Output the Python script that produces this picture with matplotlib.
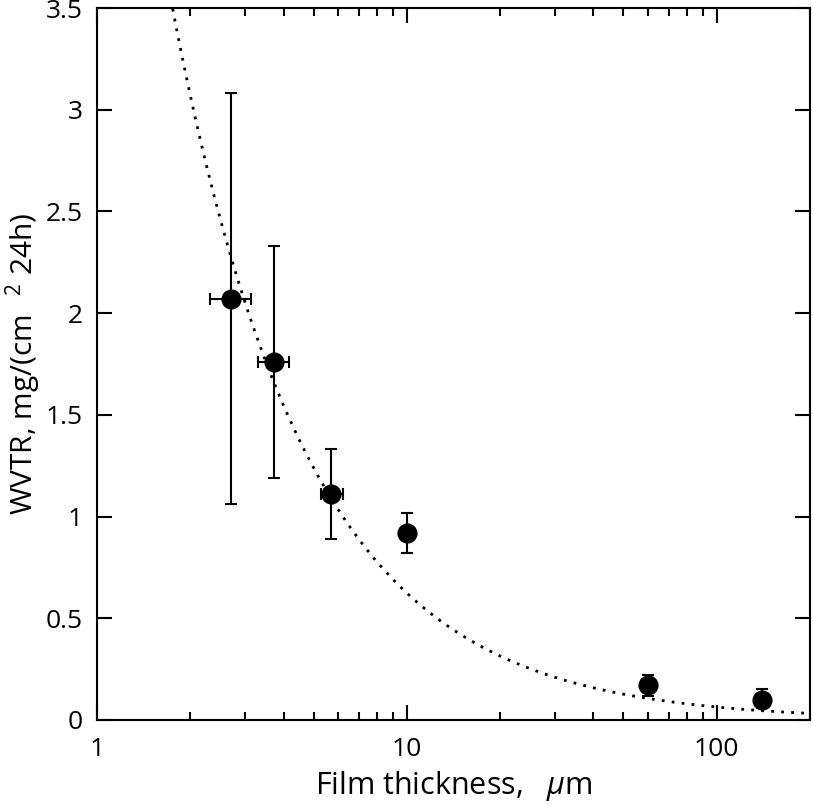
import numpy as np
import matplotlib
matplotlib.use("Agg")
import matplotlib.pyplot as plt
from matplotlib.ticker import LogLocator, NullFormatter

plt.rcParams['font.family'] = ['Open Sans', 'DejaVu Sans']
plt.rcParams['mathtext.fontset'] = 'custom'
plt.rcParams['mathtext.rm'] = 'Open Sans'
plt.rcParams['mathtext.it'] = 'Open Sans:italic'

# Data
thickness = [2.70, 3.72, 5.71, 10.0, 60.0, 140.0]
wvtr = [2.07, 1.76, 1.11, 0.92, 0.17, 0.10]
wvtr_low = [1.06, 1.19, 0.89, 0.82, 0.12, 0.06]
wvtr_high = [3.08, 2.33, 1.33, 1.02, 0.22, 0.15]
thick_low = [2.31, 3.30, 5.30, 10.0, 60.0, 140.0]
thick_high = [3.13, 4.15, 6.20, 10.0, 60.0, 140.0]

# Fitted curve y = A / x^B (dotted)
fit_A = 6.1
fit_B = 0.99

x = np.array(thickness)
y = np.array(wvtr)
yerr = [y - np.array(wvtr_low), np.array(wvtr_high) - y]
xerr = [x - np.array(thick_low), np.array(thick_high) - x]

fig = plt.figure(figsize=(8.13, 8.05), dpi=100)
ax = fig.add_axes([0.1193, 0.1056, 0.8770, 0.8844])

xc = np.logspace(np.log10(1.0), np.log10(200), 400)
ax.plot(xc, fit_A / xc**fit_B, color='black', lw=2.0, linestyle=(0, (1, 2.6)))

ax.errorbar(x, y, yerr=yerr, xerr=xerr, fmt='o', color='black', ms=13.5,
            elinewidth=1.5, capsize=4.3, capthick=1.5, zorder=3)

ax.set_xscale('log')
ax.set_xlim(1, 200)
ax.set_ylim(0, 3.5)
ax.set_yticks([0, 0.5, 1, 1.5, 2, 2.5, 3, 3.5])
ax.set_yticklabels(['0', '0.5', '1', '1.5', '2', '2.5', '3', '3.5'])
ax.set_xticks([1, 10, 100])
ax.set_xticklabels(['1', '10', '100'])
ax.xaxis.set_minor_locator(LogLocator(base=10, subs=np.arange(2, 10)))
ax.xaxis.set_minor_formatter(NullFormatter())

for s in ax.spines.values():
    s.set_linewidth(1.5)

ax.tick_params(axis='both', which='major', direction='in', length=10.5, width=1.5,
               labelsize=19, top=True, right=True)
ax.tick_params(axis='x', which='major', pad=12)
ax.tick_params(axis='x', which='minor', direction='in', length=5.7, width=1.5,
               top=True)
ax.tick_params(axis='y', which='major', pad=10)

ax.set_xlabel(r'Film thickness,   $\mu$m', fontsize=22, labelpad=5)
ax.set_ylabel(r'WVTR, mg/(cm$^{\ \ \ 2}$ 24h)', fontsize=21.5, labelpad=2)

fig.savefig('out.png', dpi=100)
